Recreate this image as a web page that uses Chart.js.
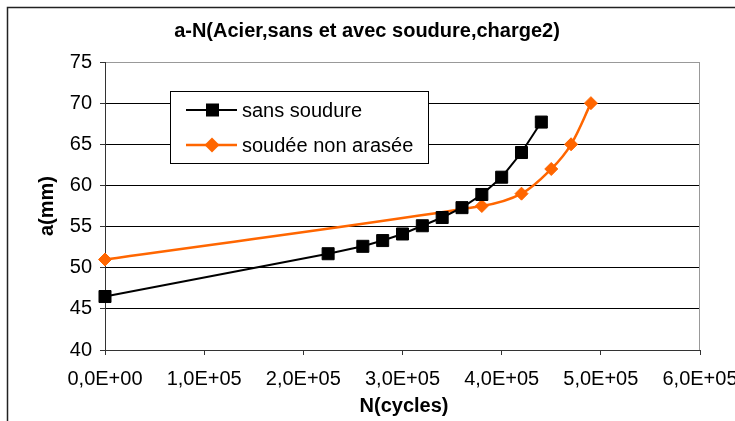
<!DOCTYPE html>
<html>
<head>
<meta charset="utf-8">
<title>a-N</title>
<script src="https://cdn.jsdelivr.net/npm/chart.js@4.4.1/dist/chart.umd.min.js"></script>
<style>
  body { margin: 0; background: #fff; }
  canvas { display: block; }
</style>
</head>
<body>
<canvas id="crackChart" width="735" height="421"></canvas>
<script>
// crack length a (mm) against number of cycles N
const cyclesSans = [0, 225000, 260000, 280000, 300000, 320000, 340000, 360000, 380000, 400000, 420000, 440000];
const crackSans = [46.5, 51.7, 52.6, 53.3, 54.1, 55.1, 56.1, 57.3, 58.9, 61.0, 64.0, 67.7];

const cyclesSoudee = [0, 380000, 420000, 450000, 470000, 490000];
const crackSoudee = [51.0, 57.5, 59.0, 62.0, 65.0, 70.0];

const seriesLabels = ['sans soudure', 'soudée non arasée'];

const xTickValues = [0, 100000, 200000, 300000, 400000, 500000, 600000];
const xTickLabels = ['0,0E+00', '1,0E+05', '2,0E+05', '3,0E+05', '4,0E+05', '5,0E+05', '6,0E+05'];
const yTickValues = [40, 45, 50, 55, 60, 65, 70, 75];

const chartTitle = 'a-N(Acier,sans et avec soudure,charge2)';
const xTitle = 'N(cycles)';
const yTitle = 'a(mm)';

const FONT = '"Liberation Sans", Arial, sans-serif';
const ORANGE = '#FF6600';

function toPoints(xs, ys) {
    return xs.map((x, i) => ({ x: x, y: ys[i] }));
}

// white page, outer frame, titles and the boxed legend
const chartDecor = {
    id: 'chartDecor',
    beforeDraw(chart) {
        const ctx = chart.ctx;
        ctx.save();
        ctx.fillStyle = '#fff';
        ctx.fillRect(0, 0, chart.width, chart.height);
        ctx.strokeStyle = '#222';
        ctx.lineWidth = 1.5;
        ctx.strokeRect(7.5, 7.5, 800, 500);
        ctx.restore();
    },
    beforeDatasetsDraw(chart) {
        const ctx = chart.ctx;
        const a = chart.chartArea;
        ctx.save();
        ctx.strokeStyle = '#999';
        ctx.lineWidth = 1;
        ctx.beginPath();
        ctx.moveTo(Math.round(a.right) - 0.5, a.top);
        ctx.lineTo(Math.round(a.right) - 0.5, a.bottom);
        ctx.stroke();
        ctx.restore();
    },
    afterDatasetsDraw(chart) {
        const ctx = chart.ctx;
        ctx.save();
        // legend box
        ctx.fillStyle = '#fff';
        ctx.fillRect(170.5, 91.5, 258, 72);
        ctx.strokeStyle = '#000';
        ctx.lineWidth = 1;
        ctx.strokeRect(170.5, 91.5, 258, 72);

        const rows = [110, 145];
        chart.data.datasets.forEach((ds, i) => {
            const y = rows[i];
            ctx.strokeStyle = ds.borderColor;
            ctx.lineWidth = ds.borderWidth;
            ctx.beginPath();
            ctx.moveTo(186, y);
            ctx.lineTo(237, y);
            ctx.stroke();

            ctx.fillStyle = ds.pointBackgroundColor;
            if (ds.pointStyle === 'rect') {
                ctx.fillRect(206, y - 6.5, 13, 13);
            } else {
                const r = 7.5;
                ctx.beginPath();
                ctx.moveTo(212 - r, y);
                ctx.lineTo(212, y - r);
                ctx.lineTo(212 + r, y);
                ctx.lineTo(212, y + r);
                ctx.closePath();
                ctx.fill();
            }

            ctx.fillStyle = '#000';
            ctx.font = '20px ' + FONT;
            ctx.textAlign = 'left';
            ctx.textBaseline = 'middle';
            ctx.fillText(ds.label, 242, y + 1);
        });
        ctx.restore();
    },
    afterDraw(chart) {
        const ctx = chart.ctx;
        ctx.save();
        ctx.fillStyle = '#000';
        ctx.font = 'bold 20px ' + FONT;
        ctx.textAlign = 'center';
        ctx.textBaseline = 'middle';
        ctx.fillText(chartTitle, 367, 31);
        ctx.fillText(xTitle, 404, 406);

        ctx.translate(47, 206);
        ctx.rotate(-Math.PI / 2);
        ctx.fillText(yTitle, 0, 0);
        ctx.restore();
    }
};

const ctx = document.getElementById('crackChart').getContext('2d');
const crackChart = new Chart(ctx, {
    type: 'scatter',
    data: {
        datasets: [
            {
                label: seriesLabels[0],
                data: toPoints(cyclesSans, crackSans),
                showLine: true,
                clip: false,
                borderColor: '#000',
                backgroundColor: '#000',
                borderWidth: 2,
                pointStyle: 'rect',
                pointRadius: 8.5,
                pointBorderWidth: 1,
                pointBackgroundColor: '#000',
                pointBorderColor: '#000',
                tension: 0
            },
            {
                label: seriesLabels[1],
                data: toPoints(cyclesSoudee, crackSoudee),
                showLine: true,
                clip: false,
                borderColor: ORANGE,
                backgroundColor: ORANGE,
                borderWidth: 2.5,
                pointStyle: 'rectRot',
                pointRadius: 6.5,
                pointBorderWidth: 1,
                pointBackgroundColor: ORANGE,
                pointBorderColor: ORANGE,
                tension: 0.35
            }
        ]
    },
    options: {
        responsive: false,
        devicePixelRatio: 1,
        animation: false,
        layout: { padding: { left: 0, right: 35, top: 62, bottom: 0 } },
        plugins: {
            legend: { display: false },
            tooltip: { enabled: false },
            title: { display: false }
        },
        scales: {
            x: {
                type: 'linear',
                min: 0,
                max: 600000,
                afterBuildTicks: scale => { scale.ticks = xTickValues.map(v => ({ value: v })); },
                ticks: {
                    callback: (value, index) => xTickLabels[index],
                    color: '#000',
                    font: { family: FONT, size: 20 },
                    padding: 12,
                    maxRotation: 0,
                    autoSkip: false
                },
                grid: { drawOnChartArea: false, tickLength: 5, color: '#333', tickColor: '#333' },
                border: { color: '#333', width: 1 },
                afterFit: scale => {
                    scale.height = 71;
                    scale.paddingLeft = 0;
                    scale.paddingRight = 0;
                }
            },
            y: {
                type: 'linear',
                min: 40,
                max: 75,
                afterBuildTicks: scale => { scale.ticks = yTickValues.map(v => ({ value: v })); },
                ticks: {
                    color: '#000',
                    font: { family: FONT, size: 20 },
                    padding: 8
                },
                grid: {
                    color: c => (c.tick && c.tick.value === 75 ? '#999' : '#000'),
                    tickColor: '#333',
                    tickLength: 5
                },
                border: { color: '#333', width: 1 },
                afterFit: scale => { scale.width = 105; }
            }
        }
    },
    plugins: [chartDecor]
});
</script>
</body>
</html>
